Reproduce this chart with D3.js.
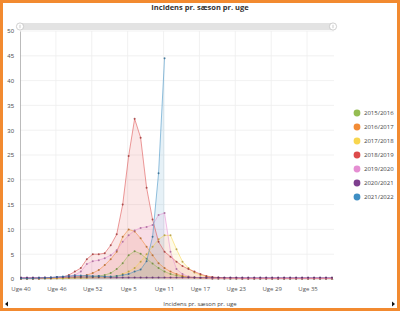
<!DOCTYPE html>
<html>
<head>
<meta charset="utf-8">
<script src="https://cdn.jsdelivr.net/npm/d3@7"></script>
<style>
  body { margin: 0; background: #fff; }
  svg { display: block; font-family: "Open Sans", "DejaVu Sans", sans-serif; }
</style>
</head>
<body>
<svg id="chart" width="400" height="311"></svg>
<script>
// weeks of the season, week 40 to week 39
var weeks = [40,41,42,43,44,45,46,47,48,49,50,51,52,53,1,2,3,4,5,6,7,8,9,10,11,12,13,14,15,16,17,18,19,20,21,22,23,24,25,26,27,28,29,30,31,32,33,34,35,36,37,38,39]
var yTicks = [0,5,10,15,20,25,30,35,40,45,50]

var seasons = ['2015/2016','2016/2017','2017/2018','2018/2019','2019/2020','2020/2021','2021/2022']
var colors = ['#95bd52','#f28c36','#f8d64e','#dd4b4b','#e58ed2','#7e3f8f','#3f8fc4']

var s2015 = [0.1,0.1,0.1,0.1,0.1,0.1,0.2,0.2,0.2,0.3,0.3,0.4,0.5,0.6,0.8,1.2,2.0,3.2,4.8,5.6,5.1,4.1,3.1,2.2,1.5,1.0,0.7,0.5,0.4,0.3,0.2,0.2,0.1,0.1,0.1,0.1,0.1,0.1,0.1,0.1,0.1,0.1,0.1,0.1,0.1,0.1,0.1,0.1,0.1,0.1,0.1,0.1,0.1]
var s2016 = [0.1,0.1,0.1,0.1,0.2,0.2,0.2,0.3,0.3,0.4,0.5,0.8,1.2,1.8,2.8,4.0,5.5,8.5,10.0,9.6,8.2,6.5,4.8,3.2,2.2,1.5,1.0,0.6,0.4,0.3,0.2,0.2,0.1,0.1,0.1,0.1,0.1,0.1,0.1,0.1,0.1,0.1,0.1,0.1,0.1,0.1,0.1,0.1,0.1,0.1,0.1,0.1,0.1]
var s2017 = [0.1,0.1,0.1,0.1,0.1,0.1,0.1,0.1,0.2,0.2,0.2,0.2,0.3,0.3,0.3,0.4,0.6,1.0,1.5,2.2,3.5,5.0,6.5,8.0,8.8,8.8,6.0,3.5,2.2,1.3,0.8,0.5,0.3,0.2,0.2,0.1,0.1,0.1,0.1,0.1,0.1,0.1,0.1,0.1,0.1,0.1,0.1,0.1,0.1,0.1,0.1,0.1,0.1]
var s2018 = [0.1,0.1,0.1,0.1,0.2,0.2,0.3,0.4,0.8,1.5,2.2,4.0,5.0,5.0,5.2,6.8,9.0,15.0,24.8,32.3,28.5,18.4,12.0,7.5,5.5,4.5,3.5,2.6,2.0,1.5,1.0,0.6,0.4,0.3,0.2,0.2,0.2,0.1,0.1,0.1,0.1,0.1,0.1,0.1,0.1,0.1,0.1,0.1,0.1,0.1,0.1,0.1,0.1]
var s2019 = [0.2,0.2,0.2,0.2,0.3,0.3,0.3,0.4,0.5,0.8,1.5,3.0,3.6,3.8,4.2,4.8,5.8,7.5,8.8,9.8,10.3,10.5,10.9,12.9,13.3,5.5,2.0,1.0,0.5,0.3,0.2,0.2,0.1,0.1,0.1,0.1,0.1,0.1,0.1,0.1,0.1,0.1,0.1,0.1,0.1,0.1,0.1,0.1,0.1,0.1,0.1,0.1,0.1]
var s2020 = [0.3,0.3,0.3,0.3,0.3,0.3,0.4,0.4,0.4,0.4,0.4,0.4,0.4,0.4,0.4,0.3,0.3,0.3,0.3,0.3,0.3,0.3,0.3,0.3,0.3,0.3,0.3,0.3,0.3,0.3,0.3,0.3,0.3,0.3,0.3,0.3,0.3,0.3,0.3,0.3,0.3,0.3,0.3,0.3,0.3,0.3,0.3,0.3,0.3,0.3,0.3,0.3,0.3]
var s2021 = [0.1,0.1,0.1,0.2,0.2,0.3,0.4,0.5,0.6,0.7,0.7,0.7,0.6,0.6,0.5,0.5,0.6,0.8,1.0,1.5,1.9,3.6,8.5,21.3,44.5]

var seriesValues = [s2015,s2016,s2017,s2018,s2019,s2020,s2021]

var svg = d3.select('#chart')

// orange frame
svg.append('rect').attr('x',1.5).attr('y',1.5).attr('width',397).attr('height',308)
  .attr('fill','#fff').attr('stroke','#f28a30').attr('stroke-width',3)

svg.append('text').attr('x',200).attr('y',10).attr('text-anchor','middle')
  .attr('font-size',7.5).attr('font-weight','bold').attr('fill','#333')
  .text('Incidens pr. sæson pr. uge')

var x = d3.scalePoint().domain(d3.range(weeks.length)).range([21,332])
var y = d3.scaleLinear().domain([0,50]).range([279,31])

// grid
svg.append('g').selectAll('line').data(yTicks.slice(1)).enter().append('line')
  .attr('x1',20).attr('x2',334).attr('y1',d=>y(d)).attr('y2',d=>y(d))
  .attr('stroke','#ededed').attr('stroke-width',0.8)

var labelIdx = d3.range(0,weeks.length,6)
svg.append('g').selectAll('line').data(labelIdx.slice(1)).enter().append('line')
  .attr('x1',d=>x(d)-1).attr('x2',d=>x(d)-1).attr('y1',31).attr('y2',279)
  .attr('stroke','#ededed').attr('stroke-width',0.8)

// y axis
var yAxis = svg.append('g').attr('transform','translate(20,0)')
  .call(d3.axisLeft(y).tickValues(yTicks).tickSize(0).tickPadding(6))
yAxis.select('.domain').attr('stroke','#aaa').attr('stroke-width',0.8)
yAxis.selectAll('text').attr('font-size',6).attr('fill','#555').attr('font-family',null)

svg.append('line').attr('x1',20).attr('x2',334).attr('y1',279.5).attr('y2',279.5)
  .attr('stroke','#ddd').attr('stroke-width',0.8)

// x labels
svg.append('g').selectAll('text').data(labelIdx).enter().append('text')
  .attr('x',d=>x(d)).attr('y',290.5).attr('text-anchor','middle')
  .attr('font-size',6).attr('fill','#555')
  .text(d=>'Uge ' + weeks[d])

// series: areas, lines, points
var area = d3.area().x((d,i)=>x(i)).y0(y(0)).y1(d=>y(d))
var line = d3.line().x((d,i)=>x(i)).y(d=>y(d))

seriesValues.forEach(function(vals,k){
  svg.append('path').datum(vals).attr('d',area)
    .attr('fill',colors[k]).attr('fill-opacity',0.13)
})
seriesValues.forEach(function(vals,k){
  svg.append('path').datum(vals).attr('d',line)
    .attr('fill','none').attr('stroke',colors[k]).attr('stroke-width',0.8).attr('stroke-opacity',0.7)
  svg.append('g').selectAll('circle').data(vals).enter().append('circle')
    .attr('cx',(d,i)=>x(i)).attr('cy',d=>y(d)).attr('r',1)
    .attr('fill',d3.color(colors[k]).darker(1))
    .attr('fill-opacity',0.8)
})

// top range slider
svg.append('rect').attr('x',20).attr('y',23).attr('width',314).attr('height',7).attr('rx',3.5)
  .attr('fill','#e3e3e3')
;[20,333].forEach(function(cx){
  svg.append('circle').attr('cx',cx).attr('cy',26.5).attr('r',3.6)
    .attr('fill','#fff').attr('stroke','#bbb').attr('stroke-width',0.7)
  svg.append('line').attr('x1',cx).attr('x2',cx).attr('y1',24.8).attr('y2',28.2)
    .attr('stroke','#aaa').attr('stroke-width',0.6)
})

// bottom scrollbar
svg.append('text').attr('x',200).attr('y',306).attr('text-anchor','middle')
  .attr('font-size',6).attr('fill','#444').text('Incidens pr. sæson pr. uge')
svg.append('path').attr('d','M5,304 L8,301.5 L8,306.5 Z').attr('fill','#111')
svg.append('path').attr('d','M395,304 L392,301.5 L392,306.5 Z').attr('fill','#111')

// legend
var legend = svg.append('g').selectAll('g').data(seasons).enter().append('g')
  .attr('transform',(d,i)=>'translate(357,' + (113 + i*14) + ')')
legend.append('circle').attr('r',3.4).attr('fill',(d,i)=>colors[i])
legend.append('text').attr('x',7).attr('y',2.2).attr('font-size',6).attr('fill','#444').text(d=>d)
</script>
</body>
</html>
